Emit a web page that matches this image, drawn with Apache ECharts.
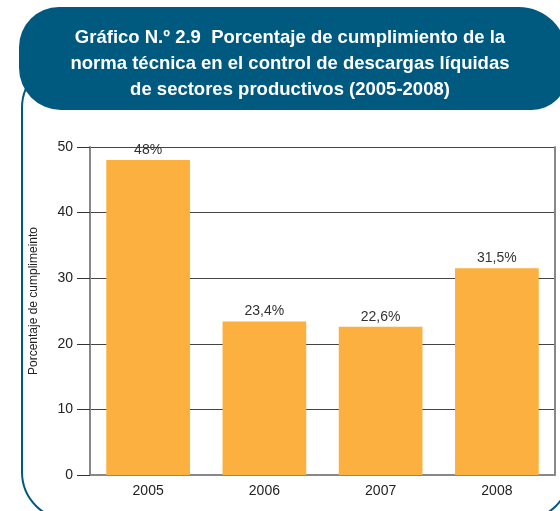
<!DOCTYPE html>
<html>
<head>
<meta charset="utf-8">
<script src="https://cdn.jsdelivr.net/npm/echarts@6/dist/echarts.min.js"></script>
<style>
  html, body { margin: 0; padding: 0; background: #fff; }
  #chart { width: 560px; height: 511px; }
</style>
</head>
<body>
<div id="chart"></div>
<script>
var years = ['2005', '2006', '2007', '2008']
var cumplimiento = [48, 23.4, 22.6, 31.5]
var yTicks = [0, 10, 20, 30, 40, 50]
var titleLines = [
  'Gráfico N.º 2.9  Porcentaje de cumplimiento de la',
  'norma técnica en el control de descargas líquidas',
  'de sectores productivos (2005-2008)'
]

var blue = '#005a80'
var barColor = '#fbb040'

var graphics = [
  // outer frame (rounded, partly hidden by the title box)
  {
    type: 'rect',
    z: 0,
    shape: { x: 22, y: 60, width: 548, height: 460, r: 48 },
    style: { fill: null, stroke: blue, lineWidth: 2 }
  },
  // title box
  {
    type: 'rect',
    z: 1,
    shape: { x: 19, y: 7, width: 548, height: 103, r: [40, 48, 35, 42] },
    style: { fill: blue }
  }
]
titleLines.forEach(function(line, i) {
  graphics.push({
    type: 'text',
    z: 2,
    x: 290,
    y: 38 + i * 26,
    style: {
      text: line,
      fill: '#fff',
      font: 'bold 18.5px "Liberation Sans", Arial, sans-serif',
      align: 'center',
      verticalAlign: 'middle'
    }
  })
})

var chart = echarts.init(document.getElementById('chart'))
chart.setOption({
  animation: false,
  textStyle: { fontFamily: 'Liberation Sans, Arial, sans-serif' },
  graphic: graphics,
  grid: {
    left: 90,
    right: 5,
    top: 147,
    bottom: 36
  },
  xAxis: {
    type: 'category',
    data: years,
    axisLine: { lineStyle: { color: '#888', width: 2 } },
    axisTick: { inside: true, length: 8, lineStyle: { color: '#888' } },
    axisLabel: { color: '#222', fontSize: 14, margin: 9 }
  },
  yAxis: [
    {
      type: 'value',
      min: 0,
      max: 50,
      interval: 10,
      name: 'Porcentaje de cumplimeinto',
      nameLocation: 'middle',
      nameGap: 50,
      nameTextStyle: { color: '#222', fontSize: 12, padding: [0, 0, 0, 20] },
      axisLine: { show: true, lineStyle: { color: '#888', width: 2 } },
      axisTick: { show: true, length: 13, lineStyle: { color: '#333' } },
      axisLabel: {
        color: '#222',
        fontSize: 14,
        margin: 17,
        formatter: function(v) {
          return yTicks.indexOf(v) >= 0 ? String(v) : ''
        }
      },
      splitLine: { lineStyle: { color: '#444', width: 1 } }
    },
    {
      // right border of the plot
      type: 'value',
      position: 'right',
      min: 0,
      max: 50,
      interval: 10,
      axisLine: { show: true, lineStyle: { color: '#888', width: 2 } },
      axisTick: { show: false },
      axisLabel: { show: false },
      splitLine: { show: false }
    }
  ],
  series: [
    {
      type: 'bar',
      data: cumplimiento,
      barWidth: '72%',
      itemStyle: { color: barColor },
      label: {
        show: true,
        position: 'top',
        distance: 3,
        color: '#333',
        fontSize: 14,
        formatter: function(p) {
          return String(p.value).replace('.', ',') + '%'
        }
      }
    }
  ]
})
</script>
</body>
</html>
